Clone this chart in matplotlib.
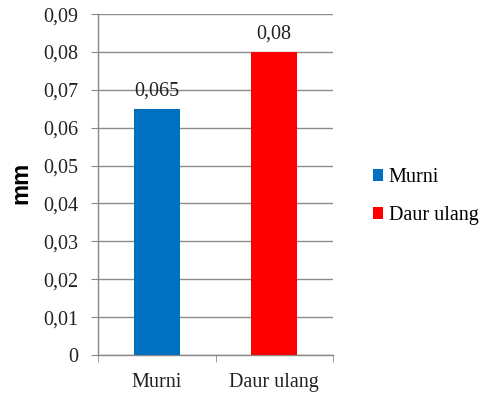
import matplotlib
matplotlib.use("Agg")
import matplotlib.pyplot as plt
from matplotlib.patches import Patch

categories = ["Murni", "Daur ulang"]
values = [0.065, 0.08]
colors = ["#0070C0", "#FF0000"]
value_labels = ["0,065", "0,08"]
yticks = [0, 0.01, 0.02, 0.03, 0.04, 0.05, 0.06, 0.07, 0.08, 0.09]
ytick_labels = ["0", "0,01", "0,02", "0,03", "0,04", "0,05", "0,06", "0,07", "0,08", "0,09"]

plt.rcParams["font.family"] = ["Liberation Serif", "DejaVu Serif"]
FS = 14.5
TXT = "#222222"

fig = plt.figure(figsize=(4.84, 3.96), dpi=100)
ax = fig.add_axes([0.2025, 0.1035, 0.4855, 0.861])

x = list(range(len(categories)))
ax.bar(x, values, width=0.39, color=colors, zorder=3)

for xi, v, lab in zip(x, values, value_labels):
    ax.annotate(lab, (xi, v), xytext=(0, 6), textcoords="offset points",
                ha="center", va="bottom", fontsize=FS, color=TXT)

ax.set_xlim(-0.5, 1.5)
ax.set_ylim(0, 0.09)
ax.set_yticks(yticks)
ax.set_yticklabels(ytick_labels, fontsize=FS, color=TXT)
ax.set_xticks(x)
ax.set_xticklabels(categories, fontsize=FS, color=TXT)
ax.set_xticks([-0.5, 0.5, 1.5], minor=True)
ax.tick_params(axis="x", which="major", length=0, pad=13)
ax.tick_params(axis="x", which="minor", length=5, color="#888888", direction="out")
ax.tick_params(axis="y", length=5, color="#888888", direction="out", pad=9)

ax.yaxis.grid(True, color="#8c8c8c", linewidth=1.0, zorder=0)
ax.set_axisbelow(True)
for s in ["top", "right"]:
    ax.spines[s].set_visible(False)
for s in ["left", "bottom"]:
    ax.spines[s].set_color("#888888")
    ax.spines[s].set_linewidth(1.0)

fig.text(0.043, 0.537, "mm", rotation=90, ha="center", va="center",
         fontsize=17, fontweight="bold", family=["Liberation Sans", "DejaVu Sans"])

handles = [Patch(facecolor=c, label=l) for c, l in zip(colors, categories)]
fig.legend(handles=handles, loc="center left", bbox_to_anchor=(0.770, 0.503),
           frameon=False, fontsize=FS, handlelength=0.5, handleheight=0.5,
           handletextpad=0.3, labelspacing=0.95, borderaxespad=0, borderpad=0)

fig.savefig("out.png", dpi=100)
